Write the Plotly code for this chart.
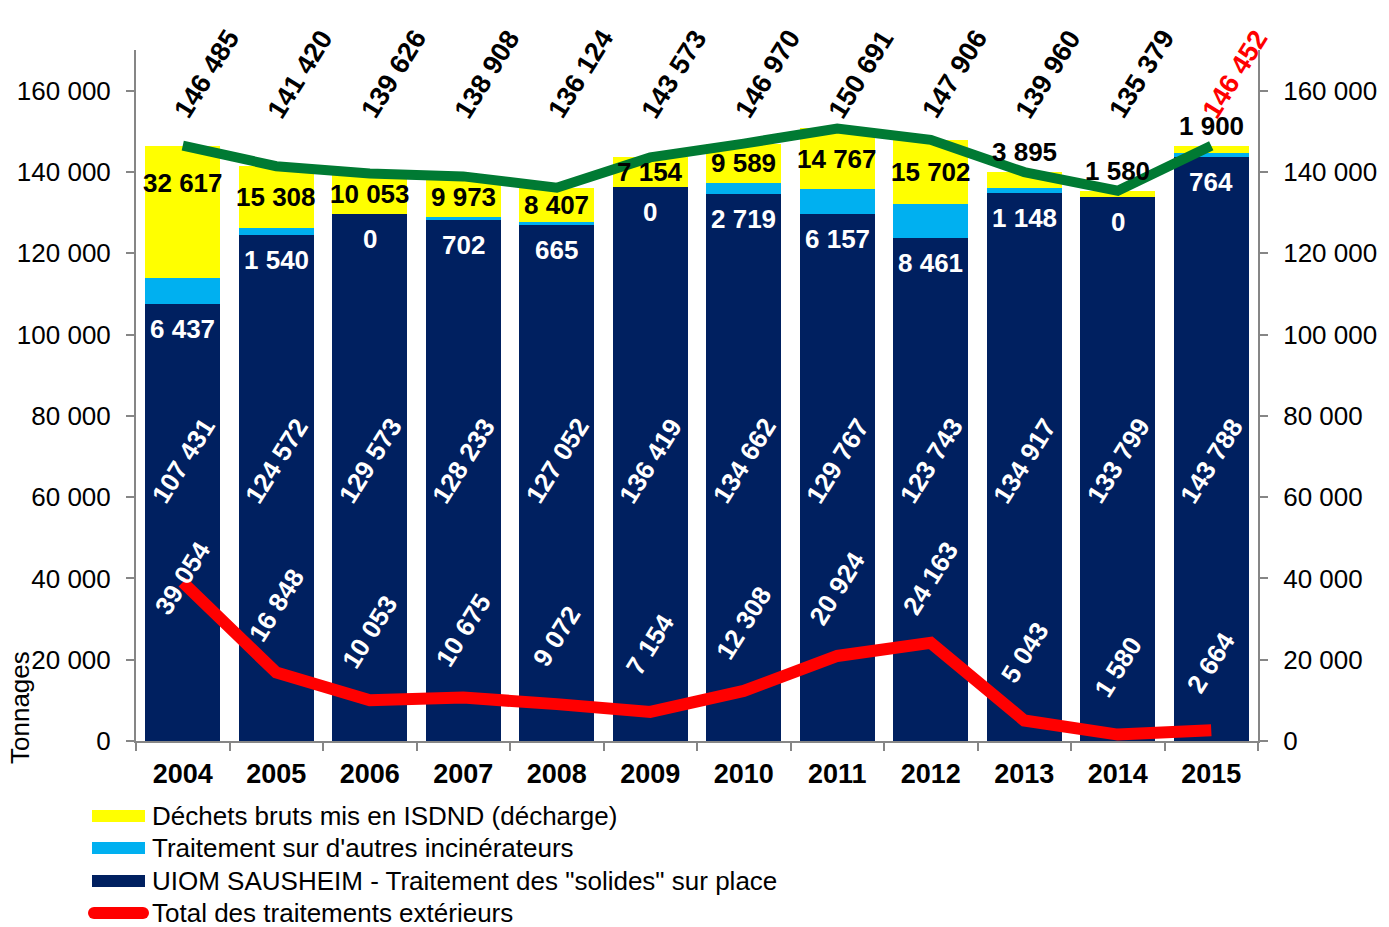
import plotly.graph_objects as go

# Annual tonnages, UIOM Sausheim
years = ["2004", "2005", "2006", "2007", "2008", "2009",
         "2010", "2011", "2012", "2013", "2014", "2015"]
uiom_sur_place = [107431, 124572, 129573, 128233, 127052, 136419,
                  134662, 129767, 123743, 134917, 133799, 143788]
autres_incinerateurs = [6437, 1540, 0, 702, 665, 0,
                        2719, 6157, 8461, 1148, 0, 764]
isdnd_decharge = [32617, 15308, 10053, 9973, 8407, 7154,
                  9589, 14767, 15702, 3895, 1580, 1900]
total_exterieurs = [39054, 16848, 10053, 10675, 9072, 7154,
                    12308, 20924, 24163, 5043, 1580, 2664]
total_general = [146485, 141420, 139626, 138908, 136124, 143573,
                 146970, 150691, 147906, 139960, 135379, 146452]

NAVY = "#002060"
CYAN = "#00B0F0"
YELLOW = "#FFFF00"
RED = "#FF0000"
GREEN = "#007A33"
AXIS_GREY = "#868686"

FONT = "Liberation Sans, Arial, sans-serif"
BOLD_FONT = "Liberation Sans Narrow, Arial Narrow, Liberation Sans, Arial, sans-serif"

W, H = 1389, 927
M_L, M_R, M_T, M_B = 136, 131, 50, 186
PLOT_W = W - M_L - M_R
PLOT_H = H - M_T - M_B
Y_MAX = 170000


def fmt(v):
    return f"{v:,}".replace(",", " ")


def px_x(px):
    return (px - M_L) / PLOT_W


def px_y(py):
    return (H - M_B - py) / PLOT_H


def units(px):
    return px * Y_MAX / PLOT_H


fig = go.Figure()

fig.add_trace(go.Bar(x=years, y=uiom_sur_place, marker=dict(color=NAVY, line=dict(width=0)),
                     name='UIOM SAUSHEIM - Traitement des "solides" sur place'))
fig.add_trace(go.Bar(x=years, y=autres_incinerateurs, marker=dict(color=CYAN, line=dict(width=0)),
                     name="Traitement sur d'autres incinérateurs"))
fig.add_trace(go.Bar(x=years, y=isdnd_decharge, marker=dict(color=YELLOW, line=dict(width=0)),
                     name="Déchets bruts mis en ISDND (décharge)"))
fig.add_trace(go.Scatter(x=years, y=total_exterieurs, mode="lines",
                         line=dict(color=RED, width=12), name="Total des traitements extérieurs"))
fig.add_trace(go.Scatter(x=years, y=total_general, mode="lines",
                         line=dict(color=GREEN, width=10), name="Total"))
# invisible trace carrying the right-hand axis
fig.add_trace(go.Scatter(x=years, y=total_general, yaxis="y2", mode="lines",
                         line=dict(width=0), hoverinfo="skip", showlegend=False, opacity=0))

ann = []
for i, yr in enumerate(years):
    navy = uiom_sur_place[i]
    cyan = autres_incinerateurs[i]
    yel = isdnd_decharge[i]
    top = navy + cyan + yel

    # overall total, rotated above the plot
    ann.append(dict(x=i, y=px_y(74), xref="x", yref="paper", text=fmt(total_general[i]),
                    textangle=-58, showarrow=False, xshift=24,
                    font=dict(family=BOLD_FONT, size=27,
                              color=RED if i == len(years) - 1 else "black"),
                    xanchor="center", yanchor="middle"))

    # landfill share
    if yel < 5000:
        ly, ys = top, 20
    else:
        ly, ys = max(top - yel / 2, top - units(37)), 0
    ann.append(dict(x=i, y=ly, xref="x", yref="y", text=fmt(yel), showarrow=False,
                    yshift=ys, font=dict(family=BOLD_FONT, size=26, color="black"),
                    xanchor="center", yanchor="middle"))

    # other incinerators, just under the navy top
    ann.append(dict(x=i, y=navy, xref="x", yref="y", text=fmt(cyan), showarrow=False,
                    yshift=-25, font=dict(family=BOLD_FONT, size=26, color="white"),
                    xanchor="center", yanchor="middle"))

    # on-site treatment, rotated inside the bar
    ann.append(dict(x=i, y=69000, xref="x", yref="y", text=fmt(navy), showarrow=False,
                    textangle=-58, font=dict(family=BOLD_FONT, size=26, color="white"),
                    xanchor="center", yanchor="middle"))

    # external treatments, rotated above the red line
    ann.append(dict(x=i, y=min(total_exterieurs[i] + units(68), 40000), xref="x", yref="y",
                    text=fmt(total_exterieurs[i]), showarrow=False, textangle=-58,
                    font=dict(family=BOLD_FONT, size=26, color="white"),
                    xanchor="center", yanchor="middle"))

# axis title
ann.append(dict(x=px_x(20), y=px_y(708), xref="paper", yref="paper", text="Tonnages",
                textangle=-90, showarrow=False, font=dict(family=FONT, size=26, color="black"),
                xanchor="center", yanchor="middle"))

# legend
legend_items = [
    ("bar", YELLOW, "Déchets bruts mis en ISDND (décharge)", 816),
    ("bar", CYAN, "Traitement sur d'autres incinérateurs", 848),
    ("bar", NAVY, 'UIOM SAUSHEIM - Traitement des "solides" sur place', 881),
    ("line", RED, "Total des traitements extérieurs", 913),
]
shapes = []
for kind, col, label, py in legend_items:
    if kind == "bar":
        shapes.append(dict(type="rect", xref="paper", yref="paper",
                           x0=px_x(92), x1=px_x(145), y0=px_y(py + 6), y1=px_y(py - 6),
                           fillcolor=col, line=dict(width=0)))
    else:
        shapes.append(dict(type="line", xref="paper", yref="paper",
                           x0=px_x(94), x1=px_x(143), y0=px_y(py), y1=px_y(py),
                           line=dict(color=col, width=12)))
        # rounded caps
        for cx in (94, 143):
            shapes.append(dict(type="circle", xref="paper", yref="paper",
                               xsizemode="pixel", ysizemode="pixel",
                               xanchor=px_x(cx), yanchor=px_y(py),
                               x0=-6, x1=6, y0=-6, y1=6,
                               fillcolor=col, line=dict(width=0)))
    ann.append(dict(x=px_x(150), y=px_y(py), xref="paper", yref="paper", text=label,
                    showarrow=False, xanchor="left", yanchor="middle",
                    font=dict(family=FONT, size=26, color="black")))

tickvals = list(range(0, 160001, 20000))
axis_common = dict(range=[0, Y_MAX], tickvals=tickvals, tickformat=",d",
                   showgrid=False, zeroline=False, showline=True, linecolor=AXIS_GREY,
                   linewidth=2, ticks="outside", ticklen=8, tickcolor=AXIS_GREY, tickwidth=2,
                   tickfont=dict(family=FONT, size=26, color="black"), ticklabelstandoff=10)

fig.update_layout(
    width=W, height=H,
    margin=dict(l=M_L, r=M_R, t=M_T, b=M_B),
    paper_bgcolor="white", plot_bgcolor="white",
    barmode="stack", bargap=0.2,
    separators=", ",
    showlegend=False,
    xaxis=dict(type="category", range=[-0.5, len(years) - 0.5], showgrid=False,
               showline=True, linecolor=AXIS_GREY, linewidth=2,
               ticks="outside", tickson="boundaries", ticklen=8, tickcolor=AXIS_GREY, tickwidth=2,
               tickfont=dict(family=BOLD_FONT, size=27, color="black", weight="bold"),
               ticklabelstandoff=8),
    yaxis=dict(**axis_common),
    yaxis2=dict(overlaying="y", side="right", **axis_common),
    annotations=ann,
    shapes=shapes,
)

# bold data labels
for a in fig.layout.annotations:
    if a.font.family == BOLD_FONT:
        a.font.weight = "bold"

fig.write_html("out.html")
